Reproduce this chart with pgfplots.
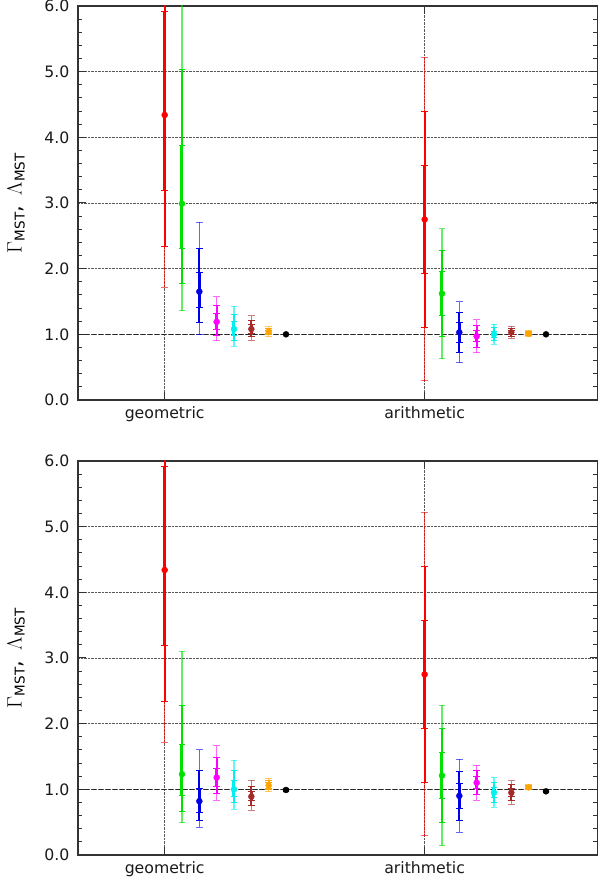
\documentclass[border=0pt]{standalone}
\usepackage{pgfplots}
\pgfplotsset{compat=1.18}
\usepackage{pgfplotstable}
\usepackage{fontspec}
\setmainfont{DejaVu Sans}

\definecolor{cRed}{RGB}{255,0,0}
\definecolor{cGreen}{RGB}{0,225,0}
\definecolor{cBlue}{RGB}{0,0,230}
\definecolor{cMag}{RGB}{255,0,255}
\definecolor{cCyan}{RGB}{0,240,240}
\definecolor{cBrown}{RGB}{165,42,42}
\definecolor{cOrange}{RGB}{255,165,0}

% columns: x, value, plus/minus for the three error levels
\pgfplotstableread{
x y p1 m1 p2 m2 p3 m3
1.0 4.34 1.57 1.15 3.69 2.00 6.56 2.62
4.0 2.75 0.82 0.82 1.64 1.64 2.46 2.46
}\TR
\pgfplotstableread{
x y p1 m1 p2 m2 p3 m3
1.2 2.99 0.89 0.69 2.05 1.22 3.56 1.63
4.2 1.62 0.33 0.33 0.66 0.66 0.99 0.99
}\TG
\pgfplotstableread{
x y p1 m1 p2 m2 p3 m3
1.4 1.65 0.29 0.24 0.65 0.47 1.06 0.65
4.4 1.03 0.155 0.155 0.31 0.31 0.465 0.465
}\TB
\pgfplotstableread{
x y p1 m1 p2 m2 p3 m3
1.6 1.19 0.12 0.11 0.25 0.21 0.38 0.29
4.6 0.97 0.085 0.085 0.17 0.17 0.25 0.25
}\TM
\pgfplotstableread{
x y p1 m1 p2 m2 p3 m3
1.8 1.08 0.11 0.10 0.22 0.18 0.35 0.26
4.8 1.00 0.05 0.05 0.10 0.10 0.15 0.15
}\TC
\pgfplotstableread{
x y p1 m1 p2 m2 p3 m3
2.0 1.08 0.07 0.06 0.13 0.11 0.20 0.17
5.0 1.03 0.03 0.03 0.06 0.06 0.09 0.09
}\TN
\pgfplotstableread{
x y p1 m1 p2 m2 p3 m3
2.2 1.04 0.025 0.025 0.05 0.05 0.075 0.075
5.2 1.01 0.02 0.02 0.035 0.035 0.05 0.05
}\TO
\pgfplotstableread{
x y
2.4 1.00
5.4 1.00
}\TK

\pgfplotstableread{
x y p1 m1 p2 m2 p3 m3
1.0 4.34 1.57 1.15 3.69 2.00 6.56 2.62
4.0 2.75 0.82 0.82 1.64 1.64 2.46 2.46
}\BR
\pgfplotstableread{
x y p1 m1 p2 m2 p3 m3
1.2 1.23 0.45 0.33 1.05 0.57 1.87 0.74
4.2 1.21 0.355 0.355 0.71 0.71 1.07 1.07
}\BG
\pgfplotstableread{
x y p1 m1 p2 m2 p3 m3
1.4 0.82 0.19 0.17 0.46 0.30 0.78 0.40
4.4 0.90 0.185 0.185 0.37 0.37 0.555 0.555
}\BB
\pgfplotstableread{
x y p1 m1 p2 m2 p3 m3
1.6 1.18 0.14 0.13 0.30 0.25 0.48 0.35
4.6 1.10 0.09 0.09 0.18 0.18 0.27 0.27
}\BM
\pgfplotstableread{
x y p1 m1 p2 m2 p3 m3
1.8 1.00 0.14 0.11 0.28 0.20 0.44 0.30
4.8 0.95 0.075 0.075 0.15 0.15 0.225 0.225
}\BC
\pgfplotstableread{
x y p1 m1 p2 m2 p3 m3
2.0 0.89 0.07 0.06 0.15 0.14 0.25 0.21
5.0 0.95 0.06 0.06 0.12 0.12 0.18 0.18
}\BN
\pgfplotstableread{
x y p1 m1 p2 m2 p3 m3
2.2 1.06 0.04 0.04 0.07 0.07 0.11 0.10
5.2 1.03 0.015 0.015 0.03 0.03 0.04 0.04
}\BO
\pgfplotstableread{
x y p1 m1 p2 m2 p3 m3
2.4 0.99 0.01 0.01 0.02 0.02 0.03 0.03
5.4 0.97 0.01 0.01 0.02 0.02 0.025 0.025
}\BK

\newcommand{\errlevel}[6]{% color, table, plus col, minus col, bar width, opacity
  \addplot[#1, opacity=#6, only marks, mark=none, forget plot,
    error bars/.cd, y dir=both, y explicit, error mark=|,
    error bar style={line width=#5},
    error mark options={mark size=3.3pt, line width=1.0pt}]
    table[x=x, y=y, y error plus=#3, y error minus=#4]{#2};}
\newcommand{\series}[2]{%
  \errlevel{#1}{#2}{p3}{m3}{1.3pt}{0.6}
  \errlevel{#1}{#2}{p2}{m2}{1.9pt}{1}
  \errlevel{#1}{#2}{p1}{m1}{3.0pt}{1}
  \addplot[#1, only marks, mark=*, mark size=3pt, forget plot] table[x=x, y=y]{#2};}

\pgfplotsset{panel/.style={
  scale only axis, width=520pt, height=394pt,
  xmin=0, xmax=6, ymin=0, ymax=6,
  xtick={1,4}, xticklabels={geometric, arithmetic},
  ytick={0,1,2,3,4,5,6},
  yticklabels={0.0,1.0,2.0,3.0,4.0,5.0,6.0},
  minor y tick num=4,
  tick align=inside,
  major tick length=8pt, minor tick length=4.5pt,
  xmajorgrids, ymajorgrids,
  grid style={densely dotted, black!65, line width=0.7pt},
  axis line style={line width=1.5pt, black!80},
  tick style={line width=1pt, black!80},
  every tick label/.append style={font=\fontsize{15.7}{18}\selectfont, text=black!90},
  xticklabel style={yshift=-3pt},
  yticklabel style={xshift=-5pt},
  ylabel={$\Gamma_{\mbox{\fontsize{13.5}{13.5}\selectfont MST}}$, \,$\Lambda_{\mbox{\fontsize{13.5}{13.5}\selectfont MST}}$},
  every axis y label/.style={at={(axis description cs:-0.119,0.5)}, rotate=90, anchor=center,
     font=\fontsize{21}{24}\selectfont},
  clip=true,
}}

\begin{document}
\begin{tikzpicture}[x=1pt,y=1pt]
\useasboundingbox (0,0) rectangle (597,888);
\begin{axis}[panel, at={(78pt,488pt)}, anchor=south west]
  \addplot[forget plot, black!85, line width=1pt, dash pattern=on 4pt off 3pt] coordinates {(0,1) (6,1)};
  \series{cRed}{\TR}
  \series{cGreen}{\TG}
  \series{cBlue}{\TB}
  \series{cMag}{\TM}
  \series{cCyan}{\TC}
  \series{cBrown}{\TN}
  \series{cOrange}{\TO}
  \addplot[black, only marks, mark=*, mark size=3pt, forget plot] table[x=x, y=y]{\TK};
\end{axis}
\begin{axis}[panel, at={(78pt,33pt)}, anchor=south west]
  \addplot[forget plot, black!85, line width=1pt, dash pattern=on 4pt off 3pt] coordinates {(0,1) (6,1)};
  \series{cRed}{\BR}
  \series{cGreen}{\BG}
  \series{cBlue}{\BB}
  \series{cMag}{\BM}
  \series{cCyan}{\BC}
  \series{cBrown}{\BN}
  \series{cOrange}{\BO}
  \series{black}{\BK}
\end{axis}
\end{tikzpicture}
\end{document}
